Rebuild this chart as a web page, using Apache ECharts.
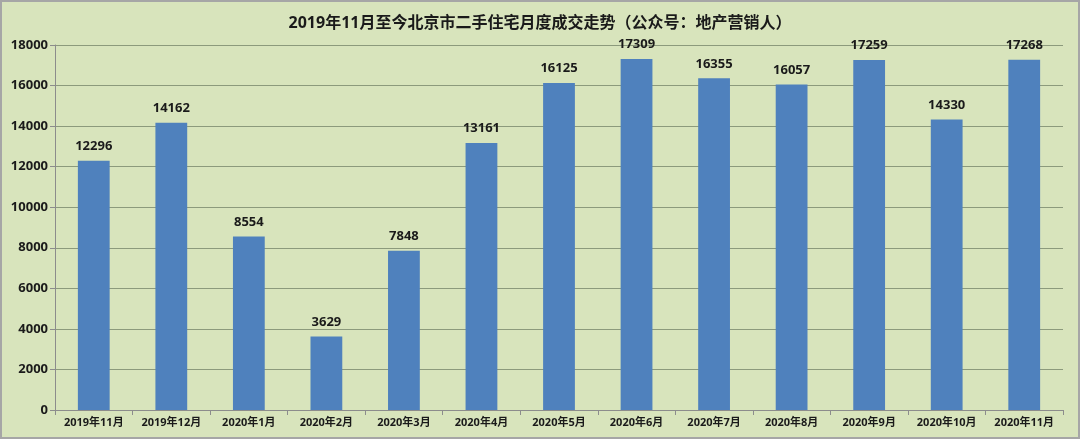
<!DOCTYPE html>
<html><head><meta charset="utf-8">
<script src="https://cdn.jsdelivr.net/npm/echarts@6/dist/echarts.min.js"></script>
<style>
html,body{margin:0;padding:0;background:#fff;}
#c{width:1076px;height:435px;border:2px solid #a6a6a6;background:#d8e4bc;}
</style></head><body>
<div id="c"></div>
<script>
const categories = ['2019年11月','2019年12月','2020年1月','2020年2月','2020年3月','2020年4月','2020年5月','2020年6月','2020年7月','2020年8月','2020年9月','2020年10月','2020年11月'];
const values = [12296,14162,8554,3629,7848,13161,16125,17309,16355,16057,17259,14330,17268];
const titleText = '2019年11月至今北京市二手住宅月度成交走势（公众号：地产营销人）';

const chart = echarts.init(document.getElementById('c'));
const font = '"Open Sans","Noto Sans CJK SC",sans-serif';
chart.setOption({
  backgroundColor: '#d8e4bc',
  animation: false,
  title: {text: titleText, left: 'center', top: 8,
    textStyle: {fontFamily: font, fontSize: 16, fontWeight: 'bold', color: '#1a1a1a'}},
  grid: {left: 53, right: 15, top: 43, bottom: 27},
  xAxis: {type: 'category', data: categories,
    axisLine: {lineStyle: {color: '#8c8c8c'}},
    axisTick: {show: true, interval: 0, lineStyle: {color: '#8c8c8c'}},
    axisLabel: {interval: 0, fontFamily: font, fontSize: 11, fontWeight: 'bold', color: '#1a1a1a', margin: 7}},
  yAxis: {type: 'value', min: 0, max: 18000, interval: 2000,
    axisLine: {show: true, lineStyle: {color: '#8c8c8c'}},
    axisTick: {show: true, length: 5, lineStyle: {color: '#8c8c8c'}},
    splitLine: {lineStyle: {color: '#8c9a7c'}},
    axisLabel: {formatter: v => String(v), fontFamily: font, fontSize: 13, fontWeight: 'bold', color: '#1a1a1a', margin: 7}},
  series: [{type: 'bar', data: values, barWidth: '41%',
    itemStyle: {color: '#4f81bd'},
    label: {show: true, position: 'top', distance: 8, fontFamily: font, fontSize: 13, fontWeight: 'bold', color: '#1a1a1a'}}]
});
</script></body></html>
